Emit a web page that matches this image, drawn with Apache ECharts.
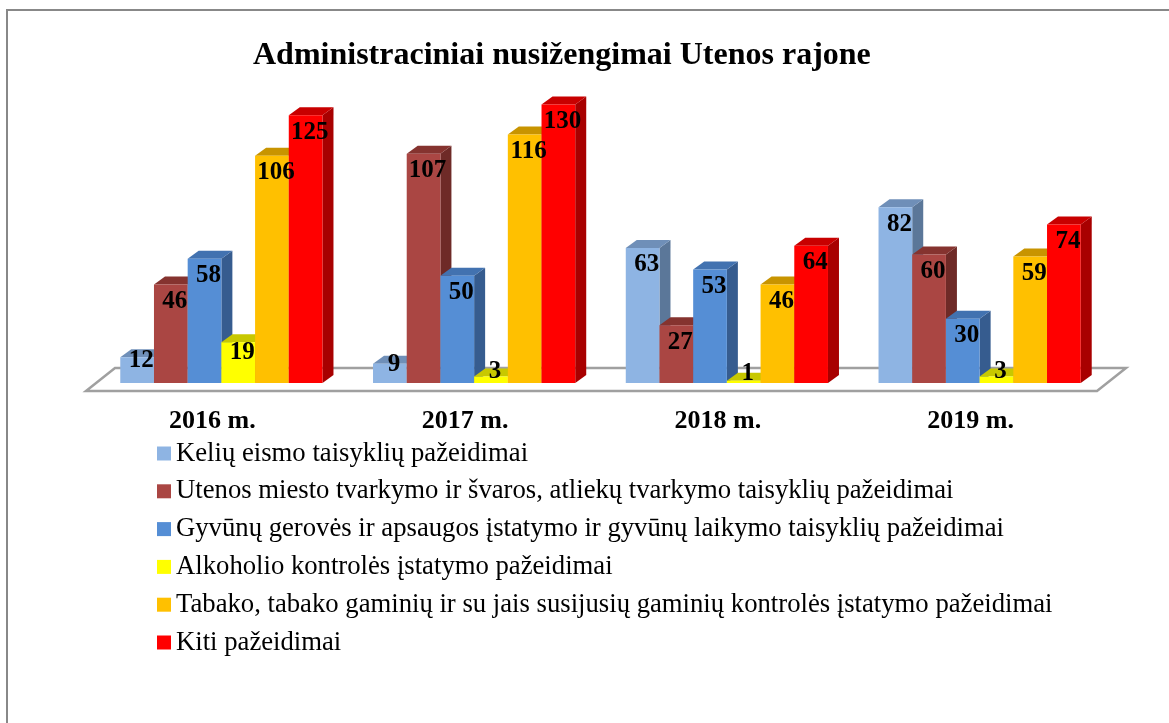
<!DOCTYPE html>
<html>
<head>
<meta charset="utf-8">
<script src="https://cdn.jsdelivr.net/npm/echarts@6/dist/echarts.min.js"></script>
<style>
html,body{margin:0;padding:0;background:#fff;}
#chart{width:1169px;height:723px;}
</style>
</head>
<body>
<div id="chart"></div>
<script>
var categories = ['2016 m.', '2017 m.', '2018 m.', '2019 m.'];
var seriesNames = [
  'Kelių eismo taisyklių pažeidimai',
  'Utenos miesto tvarkymo ir švaros, atliekų tvarkymo taisyklių pažeidimai',
  'Gyvūnų gerovės ir apsaugos įstatymo ir gyvūnų laikymo taisyklių pažeidimai',
  'Alkoholio kontrolės įstatymo pažeidimai',
  'Tabako, tabako gaminių ir su jais susijusių gaminių kontrolės įstatymo pažeidimai',
  'Kiti pažeidimai'
];
var keliu = [12, 9, 63, 82];
var utenos = [46, 107, 27, 60];
var gyvunu = [58, 50, 53, 30];
var alkoholio = [19, 3, 1, 3];
var tabako = [106, 116, 46, 59];
var kiti = [125, 130, 64, 74];
var allValues = [keliu, utenos, gyvunu, alkoholio, tabako, kiti];

var frontColors = ['#8EB4E3', '#AA4643', '#558ED5', '#FFFF00', '#FFC000', '#FF0000'];
var topColors   = ['#6F8FB8', '#85332F', '#4272B0', '#C8C800', '#C89400', '#C80000'];
var sideColors  = ['#5B7799', '#6E2A27', '#365C8F', '#A8A800', '#A87C00', '#A80000'];

var SERIF = '"Liberation Serif", "Times New Roman", serif';
var OX = 9, OY = -8;      // bar offset from floor front edge
var DX = 11, DY = -8;     // bar depth
var FDX = 29, FDY = -23;  // floor depth

function makeRender(si) {
  return function (params, api) {
    var cat = api.value(0), val = api.value(1);
    var base = api.coord([cat, 0]);
    var top = api.coord([cat, val]);
    var band = api.size([1, 0])[0];
    var w = band * 0.8 / 6;
    var x0 = base[0] - band * 0.4 + si * w + OX;
    var yb = base[1] + OY;
    var yt = top[1] + OY;
    var h = yb - yt;
    var off = Math.min(17, 0.45 * h - 8);
    return {
      type: 'group',
      children: [
        { type: 'polygon', z2: si * 4 + 1,
          shape: { points: [[x0 + w, yt], [x0 + w + DX, yt + DY], [x0 + w + DX, yb + DY], [x0 + w, yb]] },
          style: { fill: sideColors[si] } },
        { type: 'polygon', z2: si * 4 + 2,
          shape: { points: [[x0, yt], [x0 + DX, yt + DY], [x0 + w + DX, yt + DY], [x0 + w, yt]] },
          style: { fill: topColors[si] } },
        { type: 'rect', z2: si * 4 + 3,
          shape: { x: x0, y: yt, width: w, height: h },
          style: { fill: frontColors[si] } },
        { type: 'text', z2: 200,
          style: { x: x0 + w / 2 + 4, y: yt + off, text: String(val),
            fill: '#000', font: 'bold 25px ' + SERIF, align: 'center', verticalAlign: 'middle' } }
      ]
    };
  };
}

var series = [{
  type: 'custom',
  name: 'floor',
  silent: true,
  data: [[0, 0]],
  z: 1,
  renderItem: function (params, api) {
    var cs = params.coordSys;
    var yf = cs.y + cs.height;
    var xl = cs.x, xr = cs.x + cs.width;
    return {
      type: 'polygon',
      shape: { points: [[xl, yf], [xr, yf], [xr + FDX, yf + FDY], [xl + FDX, yf + FDY]] },
      style: { fill: '#FFFFFF', stroke: '#A0A0A0', lineWidth: 2.5 }
    };
  }
}];

allValues.forEach(function (vals, si) {
  series.push({
    type: 'custom',
    name: seriesNames[si],
    z: 2,
    itemStyle: { color: frontColors[si] },
    data: vals.map(function (v, i) { return [i, v]; }),
    encode: { x: 0, y: 1 },
    renderItem: makeRender(si)
  });
});

var chart = echarts.init(document.getElementById('chart'), null, { renderer: 'canvas' });
chart.setOption({
  animation: false,
  backgroundColor: '#FFFFFF',
  title: {
    text: 'Administraciniai nusižengimai Utenos rajone',
    left: 248,
    top: 35,
    textStyle: { fontFamily: SERIF, fontWeight: 'bold', fontSize: 32, color: '#000' }
  },
  graphic: [{
    type: 'rect',
    shape: { x: 7, y: 10, width: 1200, height: 800 },
    style: { fill: 'none', stroke: '#888888', lineWidth: 2 },
    silent: true, z: -1
  }],
  grid: { left: 86, right: 72, top: 91, bottom: 332 },
  xAxis: {
    type: 'category',
    data: categories,
    axisLine: { show: false },
    axisTick: { show: false },
    axisLabel: { margin: 17, fontFamily: SERIF, fontWeight: 'bold', fontSize: 26, color: '#000' }
  },
  yAxis: {
    type: 'value', min: 0, max: 140,
    show: false,
    splitLine: { show: false }
  },
  legend: {
    orient: 'vertical',
    left: 157,
    top: 440,
    padding: 0,
    itemWidth: 14,
    itemHeight: 14,
    itemGap: 10.8,
    icon: 'rect',
    data: seriesNames,
    selectedMode: false,
    textStyle: { fontFamily: SERIF, fontSize: 26.7, color: '#000', lineHeight: 26 }
  },
  series: series
});
</script>
</body>
</html>
